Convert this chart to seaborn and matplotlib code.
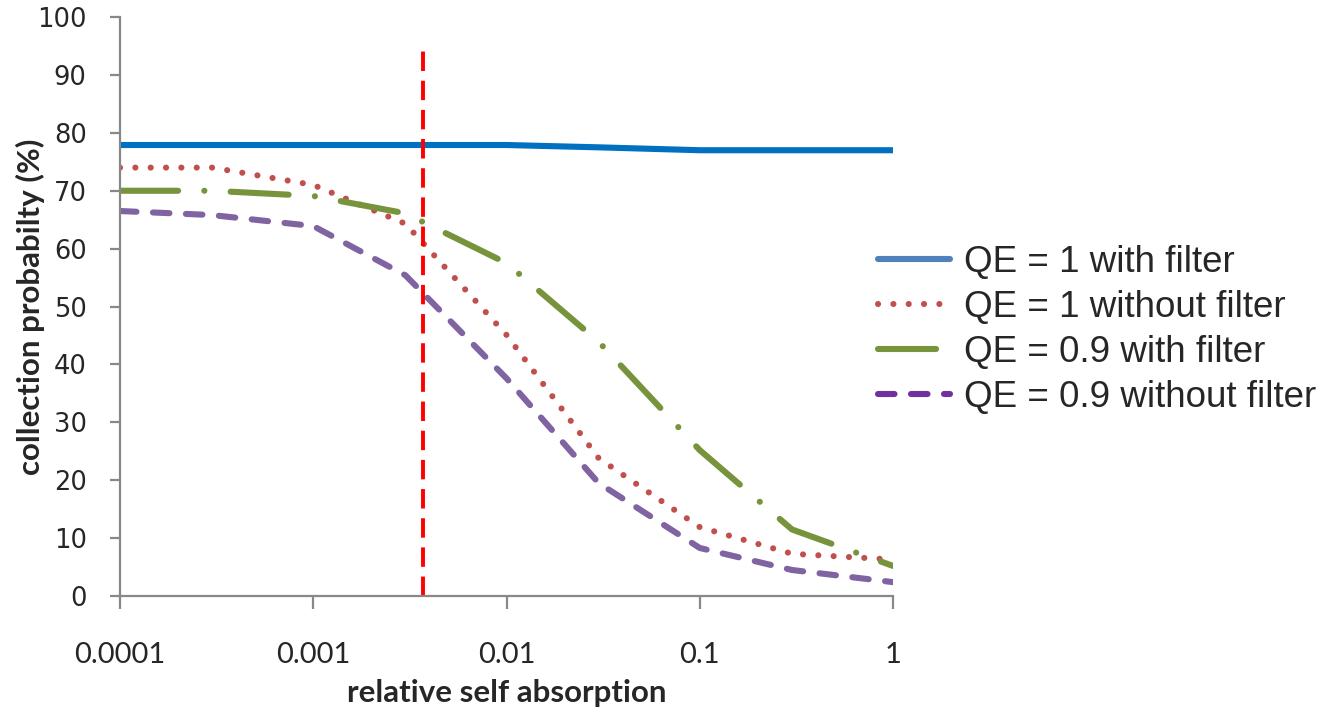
import pandas as pd
import seaborn as sns
import matplotlib.pyplot as plt
from matplotlib.lines import Line2D
from matplotlib.ticker import NullLocator

# data
absorption = [0.0001, 0.0003, 0.001, 0.003, 0.01, 0.03, 0.1, 0.3, 1]
qe1_filter = [77.9, 77.9, 77.9, 77.9, 77.9, 77.5, 77.0, 77.0, 77.0]
qe1_nofilter = [74.0, 74.0, 71.0, 64.3, 45.1, 23.8, 11.9, 7.3, 6.3]
qe09_filter = [70.0, 70.0, 69.1, 66.1, 57.5, 43.9, 25.2, 11.5, 5.2]
qe09_nofilter = [66.5, 65.8, 63.9, 55.4, 37.6, 19.5, 8.3, 4.5, 2.4]
marker_x = 0.0037
marker_top = 95

labels = ['QE = 1 with filter', 'QE = 1 without filter',
          'QE = 0.9 with filter', 'QE = 0.9 without filter']
x_ticks = [0.0001, 0.001, 0.01, 0.1, 1]
x_tick_labels = ['0.0001', '0.001', '0.01', '0.1', '1']
y_ticks = [0, 10, 20, 30, 40, 50, 60, 70, 80, 90, 100]

sns.set_style('white')

fig = plt.figure(figsize=(13.23, 7.11), dpi=100)
ax = fig.add_axes([0.0907, 0.1617, 0.675 - 0.0907, 0.976 - 0.1617])

series = [qe1_filter, qe1_nofilter, qe09_filter, qe09_nofilter]
line_colors = ['#0070C0', '#C0504D', '#77933C', '#8064A2']
legend_colors = ['#4F81BD', '#C0504D', '#77933C', '#7030A0']
styles = ['-', (0, (0.01, 2.5)), (0, (9.5, 4.3, 0.01, 4.3)), (0, (2.7, 2.7))]

for vals, lab, col, ls in zip(series, labels, line_colors, styles):
    df = pd.DataFrame({'x': absorption, 'y': vals})
    sns.lineplot(data=df, x='x', y='y', ax=ax, color=col, linewidth=4.4,
                 linestyle=ls, dash_capstyle='round', solid_capstyle='butt')

ax.axvline(marker_x, ymin=0, ymax=marker_top / 100, color='#FF0000',
           linewidth=2.8, linestyle=(0, (5, 2.5)))

ax.set_xscale('log')
ax.set_xlim(0.0001, 1)
ax.set_ylim(0, 100)
ax.set_xticks(x_ticks)
ax.set_xticklabels(x_tick_labels, fontfamily='Lato', fontsize=21)
ax.xaxis.set_minor_locator(NullLocator())
ax.set_yticks(y_ticks)
ax.set_yticklabels([str(v) for v in y_ticks], fontfamily='DejaVu Sans', fontsize=18.5)

for s in ['top', 'right']:
    ax.spines[s].set_visible(False)
for s in ['left', 'bottom']:
    ax.spines[s].set_color('#888888')
    ax.spines[s].set_linewidth(1.6)

ax.tick_params(axis='y', which='major', left=True, length=7, width=1.6,
               color='#888888', pad=17)
ax.tick_params(axis='x', which='major', bottom=True, length=9, width=1.6,
               color='#888888', pad=24)

ax.set_xlabel('relative self absorption', fontfamily='Lato', fontweight='bold',
              fontsize=22.5, labelpad=8)
ax.set_ylabel('collection probabilty (%)', fontfamily='Lato', fontweight='bold',
              fontsize=22.5, labelpad=-6)

handles = [Line2D([], [], color=c, linewidth=4.4, linestyle=ls,
                  dash_capstyle='round', solid_capstyle='round')
           for c, ls in zip(legend_colors, styles)]
fig.legend(handles, labels, loc='center left', bbox_to_anchor=(0.6636, 0.536),
           frameon=False, prop={'family': 'Liberation Sans', 'size': 26.5},
           handlelength=1.95, handletextpad=0.4, labelspacing=0.27,
           borderaxespad=0, borderpad=0)

fig.savefig('out.png', dpi=100)
